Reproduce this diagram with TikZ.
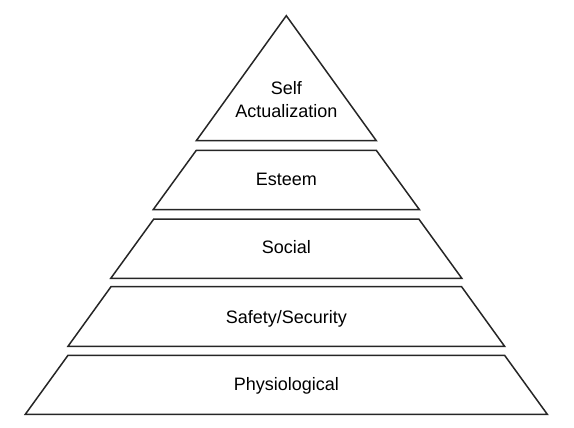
\documentclass[tikz,border=0pt]{standalone}
\usepackage{fontspec}
\setmainfont{Liberation Sans}
\begin{document}
\begin{tikzpicture}[x=1pt,y=-1pt,
  layer/.style={draw=black!85, line width=1.5pt, line join=miter, fill=white},
  lbl/.style={anchor=base, inner sep=0pt, font=\fontsize{18}{22.3}\selectfont}]
\useasboundingbox (0,0) rectangle (574,428);
\def\cx{286.3}
% Self Actualization triangle
\draw[layer] (\cx,15.7) -- (\cx+90,140.7) -- (\cx-90,140.7) -- cycle;
% Esteem
\draw[layer] (\cx-90,150.3) -- (\cx+90,150.3) -- (\cx+133,209.5) -- (\cx-133,209.5) -- cycle;
% Social
\draw[layer] (\cx-132.5,219) -- (\cx+132.5,219) -- (\cx+175.5,278.3) -- (\cx-175.5,278.3) -- cycle;
% Safety/Security
\draw[layer] (\cx-175.3,286.7) -- (\cx+175.3,286.7) -- (\cx+218.3,346.3) -- (\cx-218.3,346.3) -- cycle;
% Physiological
\draw[layer] (\cx-218.3,355.3) -- (\cx+218.3,355.3) -- (\cx+261,414.3) -- (\cx-261,414.3) -- cycle;
\node[lbl] (self) at (\cx,95) {Self};
\node[lbl] (act) at (\cx,117.3) {Actualization};
\node[lbl] (est) at (\cx,185.7) {Esteem};
\node[lbl] (soc) at (\cx,254) {Social};
\node[lbl] (saf) at (\cx,323.3) {Safety/Security};
\node[lbl] (phy) at (\cx,390) {Physiological};
\end{tikzpicture}
\end{document}
